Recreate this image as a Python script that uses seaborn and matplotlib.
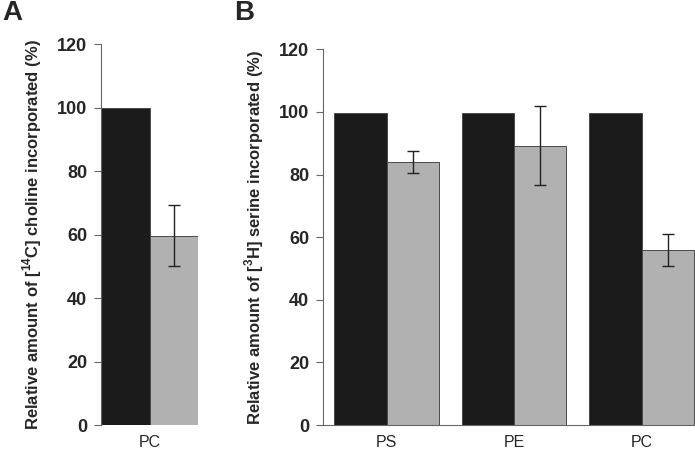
import numpy as np
import pandas as pd
import matplotlib
matplotlib.use("Agg")
import matplotlib.pyplot as plt
import seaborn as sns

# ---- data ----
conditions = ["control", "treated"]
a_lipids = ["PC"]
a_control = [100.0]
a_treated = [59.7]
a_treated_err = [9.5]

b_lipids = ["PS", "PE", "PC"]
b_control = [99.6, 99.6, 99.6]
b_treated = [84.0, 89.2, 55.8]
b_treated_err = [3.4, 12.6, 5.1]

colors = ["#1b1b1b", "#b1b1b1"]

sns.set_theme(style="white")
plt.rcParams["font.family"] = ["Liberation Sans", "DejaVu Sans"]
plt.rcParams["mathtext.fontset"] = "custom"
plt.rcParams["mathtext.rm"] = "Liberation Sans:bold"
plt.rcParams["mathtext.bf"] = "Liberation Sans:bold"

W, H = 695, 454
fig = plt.figure(figsize=(W / 100, H / 100), dpi=100)

def rect(l, r, t, b):
    return [l / W, 1 - b / H, (r - l) / W, (b - t) / H]

axA = fig.add_axes(rect(101, 198, 44.3, 425))
axB = fig.add_axes(rect(323, 695, 49.3, 425))

def make_df(lipids, ctrl, trt):
    return pd.DataFrame({
        "lipid": lipids * 2,
        "value": list(ctrl) + list(trt),
        "condition": [conditions[0]] * len(lipids) + [conditions[1]] * len(lipids),
    })

def draw(ax, lipids, ctrl, trt, err, width):
    df = make_df(lipids, ctrl, trt)
    sns.barplot(data=df, x="lipid", y="value", hue="condition", hue_order=conditions,
                palette=colors, width=width, ax=ax, legend=False, errorbar=None,
                edgecolor="#4a4a4a", linewidth=0.7, saturation=1)
    xs = np.arange(len(lipids)) + width / 4
    ax.errorbar(xs, trt, yerr=err, fmt="none", ecolor="#222222", elinewidth=1.0,
                capsize=4, capthick=1.0)
    ax.set_ylim(0, 120)
    ax.set_yticks(range(0, 121, 20))
    for lab in ax.get_yticklabels():
        lab.set_fontweight("bold")
    ax.tick_params(axis="y", which="major", direction="out", length=5, width=0.8,
                   color="#666666", labelsize=13, pad=5, left=True)
    ax.tick_params(axis="x", length=0, labelsize=11.5, pad=7)
    ax.set_xlabel("")
    for s in ["top", "right"]:
        ax.spines[s].set_visible(False)
    for s in ["left", "bottom"]:
        ax.spines[s].set_color("#666666")
        ax.spines[s].set_linewidth(0.8)

draw(axA, a_lipids, a_control, a_treated, a_treated_err, 0.8)
axA.set_xlim(-0.4, 0.4)
axA.spines["bottom"].set_visible(False)
axA.set_ylabel(r"Relative amount of [$^{14}$C] choline incorporated (%)",
               fontsize=12, fontweight="bold", labelpad=9)

draw(axB, b_lipids, b_control, b_treated, b_treated_err, 0.82)
axB.set_xlim(-0.5, 2.418)
axB.set_ylabel(r"Relative amount of [$^{3}$H] serine incorporated (%)",
               fontsize=12, fontweight="bold", labelpad=9)

fig.text(2 / W, 1 - 0 / H, "A", fontsize=20, fontweight="bold", va="top", ha="left")
fig.text(234 / W, 1 - 0 / H, "B", fontsize=20, fontweight="bold", va="top", ha="left")

fig.savefig("out.png", dpi=100)
